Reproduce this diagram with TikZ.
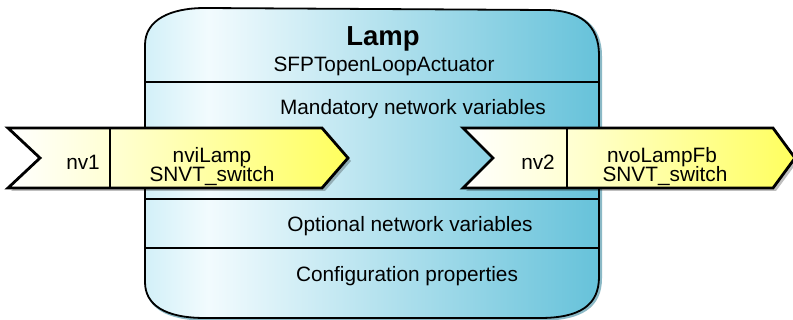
\documentclass[tikz,border=0pt]{standalone}
\usepackage{fontspec}
\setmainfont{Liberation Sans}
\definecolor{boxA}{HTML}{D2F0F8}
\definecolor{boxB}{HTML}{F2FBFE}
\definecolor{boxC}{HTML}{66C2DA}
\definecolor{halo}{HTML}{6FA8B8}
\definecolor{yelA}{HTML}{FFFFD4}
\definecolor{yelB}{HTML}{FFFF5E}
\pgfdeclarehorizontalshading{boxshade}{100bp}{color(0bp)=(boxA); color(25bp)=(boxA); color(32bp)=(boxB); color(75bp)=(boxC); color(100bp)=(boxC)}
\begin{document}
\begin{tikzpicture}[x=1pt,y=-1pt,
  lbl/.style={inner sep=0pt, anchor=base, font=\fontsize{20.8}{24}\selectfont},
  ttl/.style={inner sep=0pt, anchor=base, font=\fontsize{27.5}{30}\selectfont\bfseries},
  divider/.style={line width=1.3pt},
  arrowline/.style={line width=2.8pt, line join=miter},
  arrowshadow/.style={fill=black, opacity=0.25},
]
\clip (0,0) rectangle (793,320);
\fill[white] (0,0) rectangle (793,320);

% box halo / shadow
\draw[halo, line width=3pt, opacity=0.8, shift={(1.5,1.2)}]
  (145,45) .. controls (145,20) and (170,8) .. (205,8) -- (545,10)
  .. controls (580,10) and (599,25) .. (599,55) -- (599,277)
  .. controls (599,305) and (580,318) .. (540,318) -- (205,318)
  .. controls (165,318) and (145,305) .. (145,282) -- cycle;
% box body
\shade[shading=boxshade]
  (145,45) .. controls (145,20) and (170,8) .. (205,8) -- (545,10)
  .. controls (580,10) and (599,25) .. (599,55) -- (599,277)
  .. controls (599,305) and (580,318) .. (540,318) -- (205,318)
  .. controls (165,318) and (145,305) .. (145,282) -- cycle;
\draw[line width=1.8pt]
  (145,45) .. controls (145,20) and (170,8) .. (205,8) -- (545,10)
  .. controls (580,10) and (599,25) .. (599,55) -- (599,277)
  .. controls (599,305) and (580,318) .. (540,318) -- (205,318)
  .. controls (165,318) and (145,305) .. (145,282) -- cycle;

% dividers
\coordinate (d1l) at (145,82);  \coordinate (d1r) at (599,82);
\coordinate (d2l) at (145,199); \coordinate (d2r) at (599,199);
\coordinate (d3l) at (145,248); \coordinate (d3r) at (599,248);
\draw[divider] (d1l) -- (d1r);
\draw[divider] (d2l) -- (d2r);
\draw[divider] (d3l) -- (d3r);

% texts in box
\node[ttl] (title) at (383,46) {Lamp};
\node[lbl] (type) at (384,72) {SFPTopenLoopActuator};
\node[lbl] (mand) at (413,115) {Mandatory network variables};
\node[lbl] (opt) at (410,232) {Optional network variables};
\node[lbl] (cfg) at (407,282) {Configuration properties};

% left arrow
\fill[arrowshadow] (11,131) -- (325,131) -- (351,161) -- (325,191) -- (11,191) -- (43,161) -- cycle;
\shade[left color=white, right color=yelA] (8,128) -- (110,128) -- (110,188) -- (8,188) -- (40,158) -- cycle;
\shade[left color=yelA, right color=yelB] (110,128) -- (322,128) -- (348,158) -- (322,188) -- (110,188) -- cycle;
\draw[arrowline] (8,128) -- (322,128) -- (348,158) -- (322,188) -- (8,188) -- (40,158) -- cycle;
\coordinate (s1t) at (110,128); \coordinate (s1b) at (110,188);
\draw[line width=2pt] (s1t) -- (s1b);
\node[lbl, anchor=base east] (nv1) at (100,170) {nv1};
\node[lbl] (nvi) at (212,163) {nviLamp};
\node[lbl] (nvit) at (212,182) {SNVT\_switch};

% right arrow
\fill[arrowshadow] (466,131) -- (776,131) -- (798,161) -- (776,191) -- (466,191) -- (496,161) -- cycle;
\shade[left color=white, right color=yelA] (463,128) -- (567,128) -- (567,188) -- (463,188) -- (493,158) -- cycle;
\shade[left color=yelA, right color=yelB] (567,128) -- (773,128) -- (795,158) -- (773,188) -- (567,188) -- cycle;
\draw[arrowline] (463,128) -- (773,128) -- (795,158) -- (773,188) -- (463,188) -- (493,158) -- cycle;
\coordinate (s2t) at (567,128); \coordinate (s2b) at (567,188);
\draw[line width=2pt] (s2t) -- (s2b);
\node[lbl, anchor=base east] (nv2) at (555,170) {nv2};
\node[lbl] (nvo) at (662,163) {nvoLampFb};
\node[lbl] (nvot) at (665,182) {SNVT\_switch};
\end{tikzpicture}
\end{document}
